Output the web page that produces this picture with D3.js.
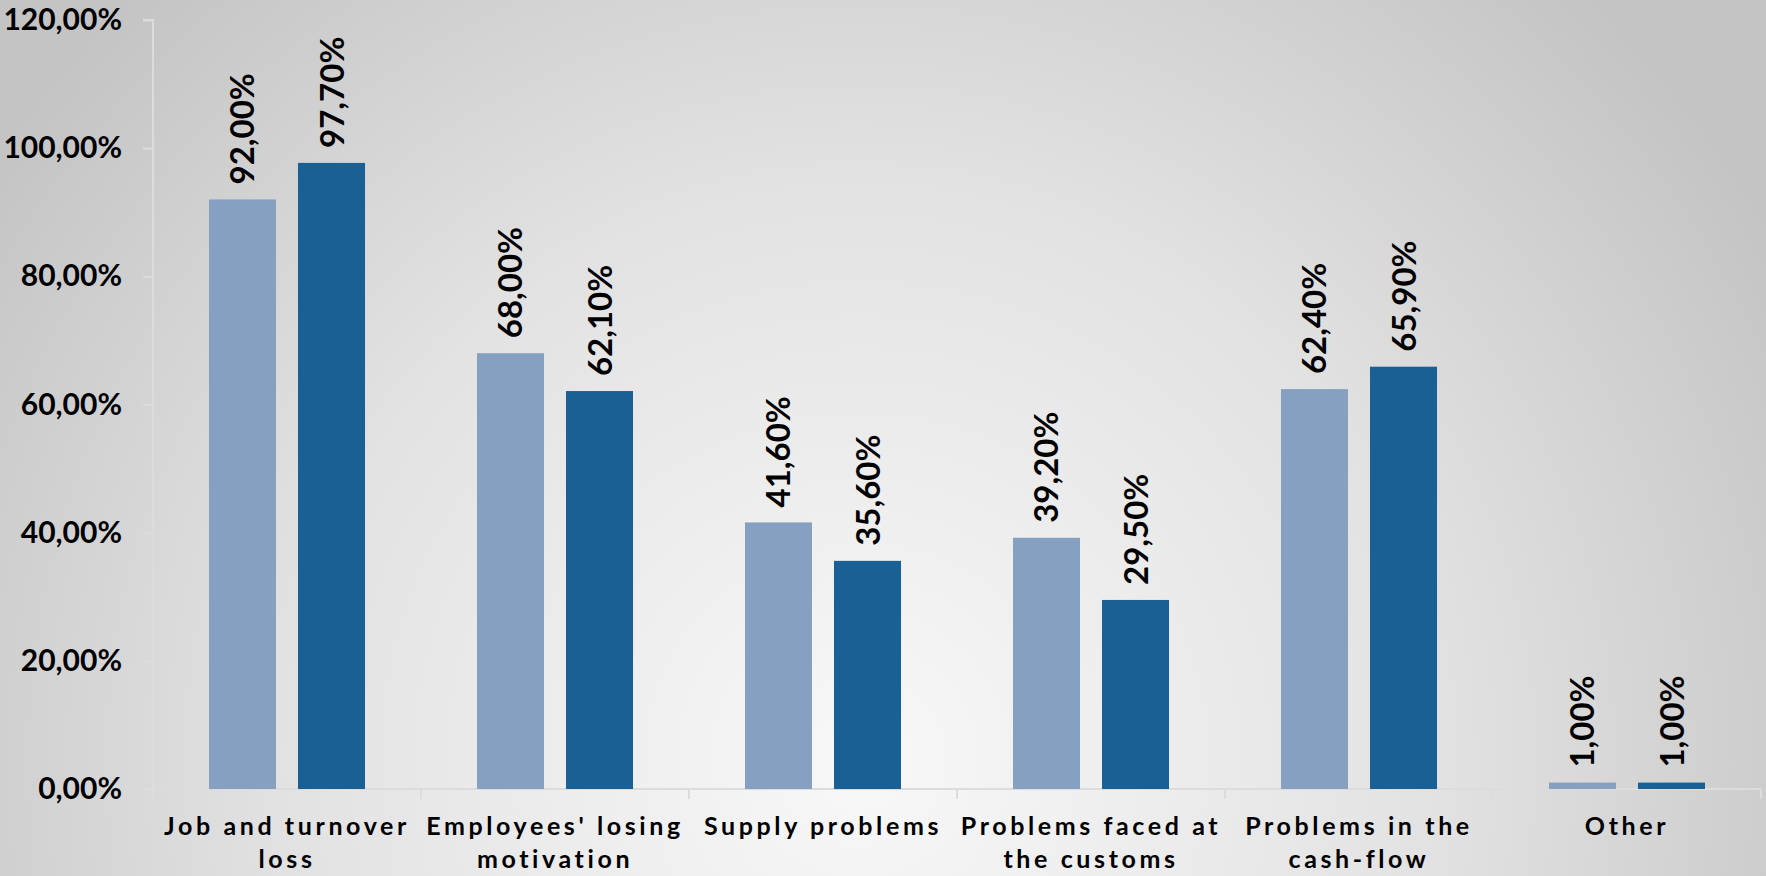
<!DOCTYPE html>
<html>
<head>
<meta charset="utf-8">
<script src="https://cdn.jsdelivr.net/npm/d3@7"></script>
<style>
  html, body { margin: 0; padding: 0; }
  svg { display: block; }
</style>
</head>
<body>
<svg width="1766" height="876"></svg>
<script>
// datos
const categories = [
  "Job and turnover\nloss",
  "Employees' losing\nmotivation",
  "Supply problems",
  "Problems faced at\nthe customs",
  "Problems in the\ncash-flow",
  "Other"
];
const seriesNames = ["A", "B"];
const seriesA = [92.0, 68.0, 41.6, 39.2, 62.4, 1.0];
const seriesB = [97.7, 62.1, 35.6, 29.5, 65.9, 1.0];
const yTicks = [0, 20, 40, 60, 80, 100, 120];
const colors = ["#86a0c1", "#1b6094"];

const svg = d3.select("svg");
const W = 1766, H = 876;
const fontFam = "Lato, 'Open Sans', sans-serif";

// fondo degradado
const defs = svg.append("defs");
const grad = defs.append("radialGradient")
  .attr("id", "bg")
  .attr("gradientUnits", "userSpaceOnUse")
  .attr("cx", 860).attr("cy", 760).attr("r", 1050);
grad.append("stop").attr("offset", "0").attr("stop-color", "#f8f8f8");
grad.append("stop").attr("offset", "0.55").attr("stop-color", "#e2e2e2");
grad.append("stop").attr("offset", "1").attr("stop-color", "#c4c4c4");
svg.append("rect").attr("width", W).attr("height", H).attr("fill", "url(#bg)");

const mLeft = 153, mRight = 1761, mTop = 20, mBottom = 789;

const x = d3.scaleBand().domain(categories).range([mLeft, mRight]).padding(0);
const xInner = d3.scaleBand().domain(seriesNames).range([0, x.bandwidth()])
  .paddingInner(0.247).paddingOuter(0.629);
const y = d3.scaleLinear().domain([0, 120]).range([mBottom, mTop]);

// eje Y
const yAxis = svg.append("g")
  .attr("transform", `translate(${mLeft},0)`)
  .call(d3.axisLeft(y).tickValues(yTicks).tickSize(10).tickPadding(21)
    .tickFormat(d => d3.format(".2f")(d).replace(".", ",") + "%"));
yAxis.select(".domain").attr("stroke", "#dcdcdc").attr("stroke-width", 2)
  .attr("d", `M-10,${mTop}H0V${mBottom}`);
yAxis.selectAll(".tick line").attr("stroke", "#dcdcdc").attr("stroke-width", 2);
yAxis.selectAll(".tick text")
  .style("font-family", fontFam).style("font-size", "30px")
  .style("font-weight", "bold").attr("fill", "#000");

// eje X
const xAxis = svg.append("g")
  .attr("transform", `translate(0,${mBottom})`);
xAxis.append("line")
  .attr("x1", mLeft - 10).attr("x2", mRight)
  .attr("y1", 0).attr("y2", 0)
  .attr("stroke", "#dcdcdc").attr("stroke-width", 2);
const xTickPos = categories.map(c => x(c)).concat([mRight]);
xAxis.selectAll(".xtick")
  .data(xTickPos)
  .enter()
  .append("line")
  .attr("x1", d => d).attr("x2", d => d)
  .attr("y1", 0).attr("y2", 10)
  .attr("stroke", "#dcdcdc").attr("stroke-width", 2);

const xLabels = xAxis.selectAll(".xlab")
  .data(categories)
  .enter()
  .append("text")
  .attr("class", "xlab")
  .attr("x", d => x(d) + x.bandwidth() / 2)
  .attr("y", 46)
  .attr("text-anchor", "middle")
  .style("font-family", fontFam)
  .style("font-size", "25px")
  .style("font-weight", "bold")
  .style("letter-spacing", "3.6px")
  .attr("fill", "#000");
xLabels.each(function(d) {
  const lines = d.split("\n");
  const t = d3.select(this);
  lines.forEach((ln, i) => {
    t.append("tspan")
      .attr("x", x(d) + x.bandwidth() / 2)
      .attr("dy", i === 0 ? 0 : 33)
      .text(ln);
  });
});

// barras
const rows = categories.map((c, i) => ({
  cat: c,
  vals: [
    { s: seriesNames[0], v: seriesA[i], k: 0 },
    { s: seriesNames[1], v: seriesB[i], k: 1 }
  ]
}));

const groups = svg.selectAll(".grp")
  .data(rows)
  .enter()
  .append("g")
  .attr("class", "grp")
  .attr("transform", d => `translate(${x(d.cat)},0)`);

groups.selectAll("rect")
  .data(d => d.vals)
  .enter()
  .append("rect")
  .attr("x", d => xInner(d.s))
  .attr("y", d => y(d.v))
  .attr("width", xInner.bandwidth())
  .attr("height", d => mBottom - y(d.v))
  .attr("fill", d => colors[d.k]);

// etiquetas de valores
groups.selectAll(".vlab")
  .data(d => d.vals)
  .enter()
  .append("text")
  .attr("class", "vlab")
  .attr("transform", d => `translate(${xInner(d.s) + xInner.bandwidth() / 2 + 12},${y(d.v) - 15}) rotate(-90)`)
  .attr("text-anchor", "start")
  .style("font-family", fontFam)
  .style("font-size", "33px")
  .style("font-weight", "bold")
  .attr("fill", "#000")
  .text(d => d3.format(".2f")(d.v).replace(".", ",") + "%");
</script>
</body>
</html>
